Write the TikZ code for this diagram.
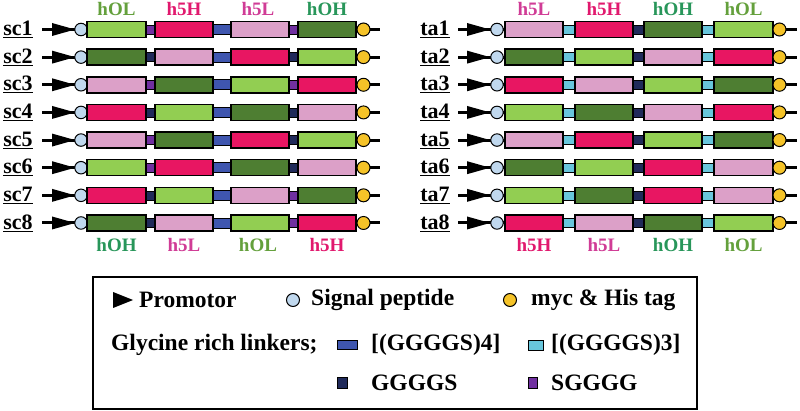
\documentclass[tikz,border=0pt]{standalone}
\usepackage{fontspec}
\setmainfont{Liberation Serif}
\definecolor{LG}{RGB}{146,206,82}
\definecolor{DG}{RGB}{78,126,50}
\definecolor{MG}{RGB}{232,22,98}
\definecolor{LP}{RGB}{220,160,200}
\definecolor{BL}{RGB}{63,86,175}
\definecolor{NV}{RGB}{32,42,90}
\definecolor{PU}{RGB}{112,48,160}
\definecolor{CY}{RGB}{104,198,220}
\definecolor{SP}{RGB}{192,216,238}
\definecolor{MY}{RGB}{245,195,40}
\definecolor{tOL}{RGB}{100,160,60}
\definecolor{tOH}{RGB}{40,150,90}
\definecolor{t5H}{RGB}{225,25,110}
\definecolor{t5L}{RGB}{208,60,150}
\tikzset{
  domain box/.style={draw=black, line width=1.5pt, minimum height=16pt, minimum width=58pt, inner sep=0pt},
  linker box/.style={draw=black, line width=0.6pt, minimum height=9pt, inner sep=0pt},
  backbone/.style={line width=3pt, black},
  sigdot/.style={circle, draw=black, line width=1pt, fill=SP, minimum size=12.5pt, inner sep=0pt},
  mycdot/.style={circle, draw=black, line width=1pt, fill=MY, minimum size=13pt, inner sep=0pt},
  rowlab/.style={font=\fontsize{22}{24}\selectfont\bfseries, inner sep=0pt},
  domlab/.style={font=\fontsize{19}{21}\selectfont\bfseries, inner sep=0pt},
  leglab/.style={font=\fontsize{23.5}{26}\selectfont\bfseries, inner sep=0pt, anchor=west},
  promo/.style={fill=black},
}
\begin{document}
\begin{tikzpicture}[x=1pt,y=-1pt]
\useasboundingbox (0,0) rectangle (800,411);
% ---------- left panel ----------
\foreach \i/\a/\b/\c/\d/\p/\q in {1/LG/MG/LP/DG/PU/PU, 2/DG/LP/MG/LG/NV/NV, 3/LP/DG/LG/MG/PU/PU, 4/MG/LG/DG/LP/NV/NV,
  5/LP/DG/MG/LG/PU/NV, 6/LG/MG/DG/LP/PU/NV, 7/MG/LG/LP/DG/NV/PU, 8/DG/LP/LG/MG/NV/PU}{
  \pgfmathsetmacro\y{29.5+27.64*(\i-1)}
  \node[rowlab] (sc\i) at (18,\y) {\underline{sc\i}};
  \coordinate (scA\i) at (42,\y);
  \coordinate (scE\i) at (380,\y);
  \draw[backbone] (scA\i) -- (scE\i);
  \fill[promo] (52,\y-6.5) -- (75,\y) -- (52,\y+6.5) -- cycle;
  \node[sigdot] (scS\i) at (81,\y) {};
  \node[domain box, fill=\a, minimum width=59pt] (scB\i1) at (116.5,\y) {};
  \node[linker box, fill=\p, minimum width=9pt] (scL\i1) at (150.5,\y) {};
  \node[domain box, fill=\b] (scB\i2) at (184,\y) {};
  \node[linker box, fill=BL, minimum width=18pt, minimum height=10pt] (scL\i2) at (222,\y) {};
  \node[domain box, fill=\c] (scB\i3) at (260,\y) {};
  \node[linker box, fill=\q, minimum width=9pt] (scL\i3) at (293.5,\y) {};
  \node[domain box, fill=\d] (scB\i4) at (327,\y) {};
  \node[mycdot] (scM\i) at (363.5,\y) {};
}
% ---------- right panel ----------
\foreach \i/\a/\b/\c/\d in {1/LP/MG/DG/LG, 2/DG/LG/LP/MG, 3/MG/LP/LG/DG, 4/LG/DG/LP/MG,
  5/LP/MG/LG/DG, 6/DG/LG/MG/LP, 7/LG/DG/MG/LP, 8/MG/LP/DG/LG}{
  \pgfmathsetmacro\y{29.5+27.64*(\i-1)}
  \node[rowlab] (ta\i) at (435,\y) {\underline{ta\i}};
  \coordinate (taA\i) at (458,\y);
  \coordinate (taE\i) at (797,\y);
  \draw[backbone] (taA\i) -- (taE\i);
  \fill[promo] (467,\y-6.5) -- (490,\y) -- (467,\y+6.5) -- cycle;
  \node[sigdot] (taS\i) at (497,\y) {};
  \node[domain box, fill=\a] (taB\i1) at (534,\y) {};
  \node[linker box, fill=CY, minimum width=12pt] (taL\i1) at (569,\y) {};
  \node[domain box, fill=\b] (taB\i2) at (604,\y) {};
  \node[linker box, fill=NV, minimum width=10pt] (taL\i2) at (638.5,\y) {};
  \node[domain box, fill=\c] (taB\i3) at (673,\y) {};
  \node[linker box, fill=CY, minimum width=12pt] (taL\i3) at (708,\y) {};
  \node[domain box, fill=\d, minimum width=59pt] (taB\i4) at (743.5,\y) {};
  \node[mycdot] (taM\i) at (779.5,\y) {};
}
% ---------- domain labels ----------
\node[domlab, text=tOL] (lt1) at (116.5,9.5) {hOL};
\node[domlab, text=t5H] (lt2) at (184,9.5) {h5H};
\node[domlab, text=t5L] (lt3) at (258,9.5) {h5L};
\node[domlab, text=tOH] (lt4) at (327,9.5) {hOH};
\node[domlab, text=tOH] (lb1) at (116.5,245) {hOH};
\node[domlab, text=t5L] (lb2) at (184,245) {h5L};
\node[domlab, text=tOL] (lb3) at (258,245) {hOL};
\node[domlab, text=t5H] (lb4) at (327,245) {h5H};
\node[domlab, text=t5L] (rt1) at (534,9.5) {h5L};
\node[domlab, text=t5H] (rt2) at (604,9.5) {h5H};
\node[domlab, text=tOH] (rt3) at (673,9.5) {hOH};
\node[domlab, text=tOL] (rt4) at (743.5,9.5) {hOL};
\node[domlab, text=t5H] (rb1) at (534,245) {h5H};
\node[domlab, text=t5L] (rb2) at (604,245) {h5L};
\node[domlab, text=tOH] (rb3) at (673,245) {hOH};
\node[domlab, text=tOL] (rb4) at (743.5,245) {hOL};
% ---------- legend ----------
\draw[line width=2pt] (93,277) rectangle (697,409);
\fill[promo] (113,292) -- (133,300) -- (113,308) -- cycle;
\node[leglab] (lgP) at (139,300) {Promotor};
\node[sigdot, minimum size=13pt] (lgS) at (293,300) {};
\node[leglab] (lgSt) at (311,300) {Signal peptide};
\node[mycdot] (lgM) at (510,300) {};
\node[leglab] (lgMt) at (531,300) {myc \& His tag};
\node[leglab] (lgG) at (111,345) {Glycine rich linkers;};
\node[linker box, fill=BL, minimum width=20pt, minimum height=9pt] (lgB) at (347,345) {};
\node[leglab] (lgBt) at (371,345) {[(GGGGS)4]};
\node[linker box, fill=CY, minimum width=15pt, minimum height=10pt] (lgC) at (535.5,345) {};
\node[leglab] (lgCt) at (551,345) {[(GGGGS)3]};
\node[linker box, fill=NV, minimum width=10pt, minimum height=11pt] (lgN) at (342,383) {};
\node[leglab] (lgNt) at (371,383) {GGGGS};
\node[linker box, fill=PU, minimum width=9pt, minimum height=11pt] (lgPu) at (532.5,383) {};
\node[leglab] (lgPut) at (551,383) {SGGGG};
\end{tikzpicture}
\end{document}
